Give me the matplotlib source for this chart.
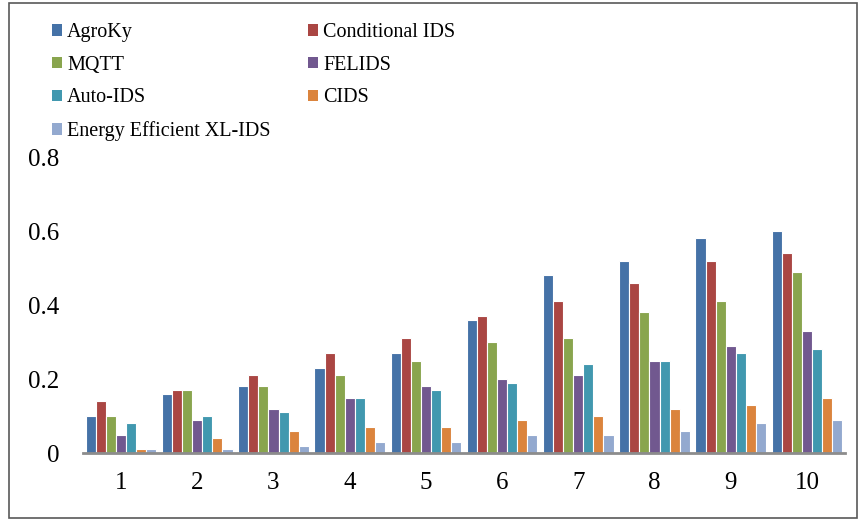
import numpy as np
import matplotlib.pyplot as plt
from matplotlib.patches import Rectangle, Patch

plt.rcParams['font.family'] = ['Liberation Serif', 'DejaVu Serif']

# Datenreihen je Methode
groups = [1, 2, 3, 4, 5, 6, 7, 8, 9, 10]
agroky      = [0.10, 0.16, 0.18, 0.23, 0.27, 0.36, 0.48, 0.52, 0.58, 0.60]
cond_ids    = [0.14, 0.17, 0.21, 0.27, 0.31, 0.37, 0.41, 0.46, 0.52, 0.54]
mqtt        = [0.10, 0.17, 0.18, 0.21, 0.25, 0.30, 0.31, 0.38, 0.41, 0.49]
felids      = [0.05, 0.09, 0.12, 0.15, 0.18, 0.20, 0.21, 0.25, 0.29, 0.33]
auto_ids    = [0.08, 0.10, 0.11, 0.15, 0.17, 0.19, 0.24, 0.25, 0.27, 0.28]
cids        = [0.01, 0.04, 0.06, 0.07, 0.07, 0.09, 0.10, 0.12, 0.13, 0.15]
ee_xl_ids   = [0.01, 0.01, 0.02, 0.03, 0.03, 0.05, 0.05, 0.06, 0.08, 0.09]

names = ['AgroKy', 'Conditional IDS', 'MQTT', 'FELIDS', 'Auto-IDS', 'CIDS',
         'Energy Efficient XL-IDS']
series = [agroky, cond_ids, mqtt, felids, auto_ids, cids, ee_xl_ids]
colors = ['#4572A7', '#AA4643', '#89A54E', '#71588F', '#4198AF', '#DB843D', '#93A9CF']

fig = plt.figure(figsize=(8.62, 5.20), dpi=100)
ax = fig.add_axes([83 / 862, 1 - 453 / 520, (845 - 83) / 862, (453 - 157) / 520])

x = np.arange(len(groups))
n = len(series)
slot = 0.132
for i, (vals, c) in enumerate(zip(series, colors)):
    off = (i - (n - 1) / 2) * slot
    ax.bar(x + off, vals, width=slot, color=c, edgecolor='white', linewidth=0.8)

ax.set_xlim(-0.5, len(groups) - 0.5)
ax.set_ylim(0, 0.8)
ax.set_yticks([0, 0.2, 0.4, 0.6, 0.8])
ax.set_yticklabels(['0', '0.2', '0.4', '0.6', '0.8'])
ax.set_xticks(x)
ax.set_xticklabels([str(g) for g in groups])
ax.tick_params(axis='both', length=0, labelsize=18)
ax.tick_params(axis='y', pad=17)
ax.tick_params(axis='x', pad=14)

for s in ['top', 'right', 'left']:
    ax.spines[s].set_visible(False)
ax.spines['bottom'].set_color('#8c8c8c')
ax.spines['bottom'].set_linewidth(2)

# Legende oben, zwei Spalten, zeilenweise gefuellt
order = [0, 2, 4, 6, 1, 3, 5]
handles = [Patch(facecolor=colors[k], edgecolor='none') for k in order]
labels = [names[k] for k in order]
fig.legend(handles, labels, loc='upper left', bbox_to_anchor=(52 / 862, 1 - 23 / 520),
           ncol=2, frameon=False, fontsize=14.5, handlelength=0.5, handleheight=0.5,
           handletextpad=0.25, columnspacing=1.85, labelspacing=0.68,
           borderpad=0, borderaxespad=0)

# Rahmen um die ganze Grafik
fig.patches.append(Rectangle((9 / 862, 2 / 520), (857 - 9) / 862, (517 - 2) / 520,
                             transform=fig.transFigure, fill=False,
                             edgecolor='#595959', linewidth=1.2))

fig.savefig('out.png', dpi=100)
